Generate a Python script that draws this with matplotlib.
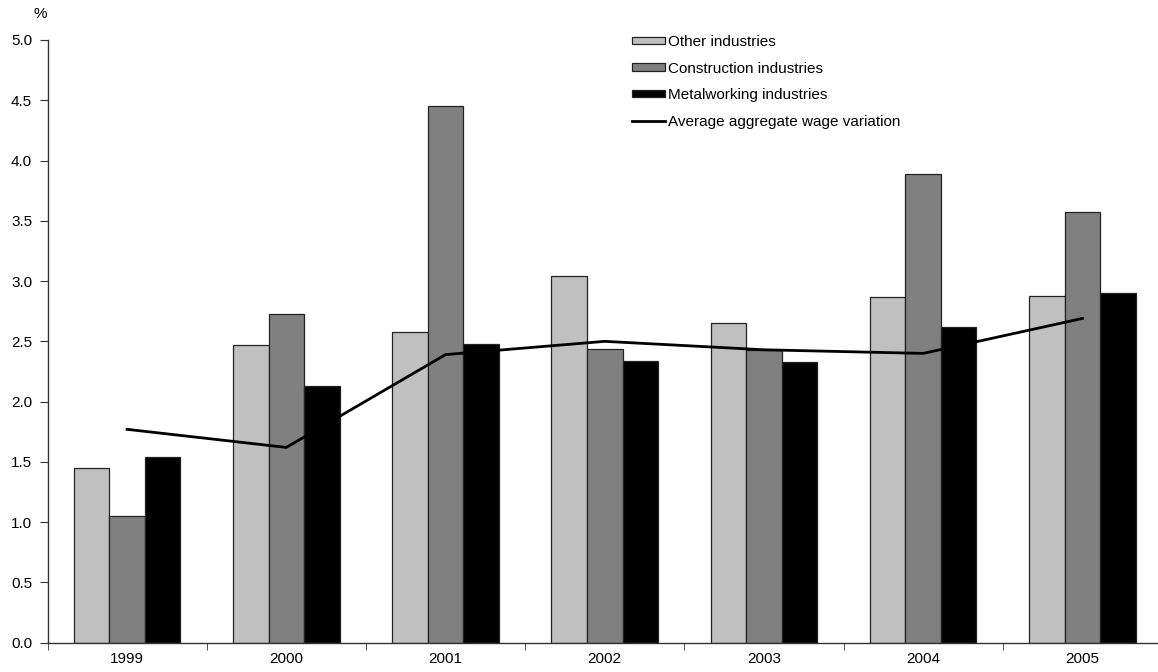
import matplotlib
matplotlib.use("Agg")
import matplotlib.pyplot as plt
import numpy as np

years = ["1999", "2000", "2001", "2002", "2003", "2004", "2005"]
other = [1.45, 2.47, 2.58, 3.04, 2.65, 2.87, 2.88]
construction = [1.05, 2.73, 4.45, 2.44, 2.43, 3.89, 3.57]
metalworking = [1.54, 2.13, 2.48, 2.34, 2.33, 2.62, 2.90]
average = [1.77, 1.62, 2.39, 2.50, 2.43, 2.40, 2.69]

plt.rcParams["font.family"] = ["Liberation Sans", "DejaVu Sans"]
FS = 11

fig = plt.figure(figsize=(11.58, 6.72), dpi=100)
ax = fig.add_axes([47.5 / 1158, 29.3 / 672, (1162 - 47.5) / 1158, 602.7 / 672])

x = np.arange(len(years))
w = 0.223
edge = "#222222"
b1 = ax.bar(x - w, other, w, color="#C0C0C0", edgecolor=edge, linewidth=0.9, label="Other industries")
b2 = ax.bar(x, construction, w, color="#808080", edgecolor=edge, linewidth=0.9, label="Construction industries")
b3 = ax.bar(x + w, metalworking, w, color="#000000", edgecolor=edge, linewidth=0.9, label="Metalworking industries")
ln, = ax.plot(x, average, color="black", linewidth=2, label="Average aggregate wage variation")

ax.set_xlim(-0.5, len(years) - 0.5)
ax.set_ylim(0, 5.0)
yt = np.arange(0, 5.01, 0.5)
ax.set_yticks(yt)
ax.set_yticklabels([f"{v:.1f}" for v in yt], fontsize=FS)
ax.set_xticks(x)
ax.set_xticklabels(years, fontsize=FS)
ax.set_xticks(np.arange(-0.5, len(years)), minor=True)
ax.tick_params(axis="x", which="major", length=0, pad=7)
ax.tick_params(axis="x", which="minor", length=5, direction="out", color="#333333")
ax.tick_params(axis="y", length=6, direction="out", color="#333333", pad=5)

for s in ["top", "right"]:
    ax.spines[s].set_visible(False)
for s in ["left", "bottom"]:
    ax.spines[s].set_color("#333333")
    ax.spines[s].set_linewidth(1.0)

fig.text(40 / 1158, 1 - 14 / 672, "%", fontsize=FS, ha="center", va="center")

leg = fig.legend(handles=[b1, b2, b3, ln], loc="upper left",
                 bbox_to_anchor=(632 / 1158, 1 - 35 / 672), frameon=False,
                 fontsize=FS, handlelength=2.15, handleheight=0.4,
                 handletextpad=0.2, labelspacing=0.82, borderpad=0, borderaxespad=0)

fig.savefig("out.png", dpi=100)
